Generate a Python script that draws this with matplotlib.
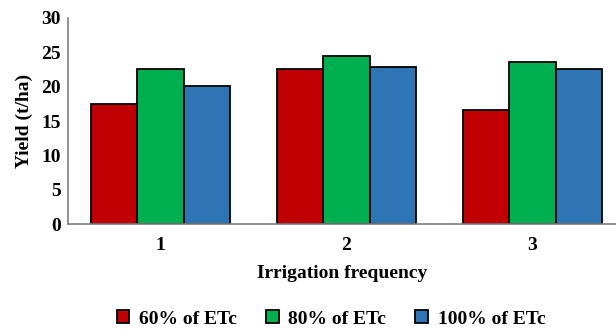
import numpy as np
import matplotlib
matplotlib.use("Agg")
import matplotlib.pyplot as plt

# Yield (t/ha) per irrigation frequency
frequencies = ["1", "2", "3"]
etc_60 = [17.5, 22.6, 16.6]
etc_80 = [22.6, 24.5, 23.6]
etc_100 = [20.1, 22.9, 22.6]
series_names = ["60% of ETc", "80% of ETc", "100% of ETc"]
colors = ["#c00000", "#00b050", "#2e75b6"]

plt.rcParams['font.family'] = ['Liberation Serif', 'DejaVu Serif']
plt.rcParams['font.weight'] = 'bold'

fig = plt.figure(figsize=(6.16, 3.33), dpi=100)
ax = fig.add_axes([0.110, 0.327, 0.890, 0.619])

x = np.arange(1, len(frequencies) + 1)
w = 0.25
for i, (vals, name, c) in enumerate(zip([etc_60, etc_80, etc_100], series_names, colors)):
    ax.bar(x + (i - 1) * w, vals, width=w, color=c, edgecolor="black",
           linewidth=1.3, label=name)

ax.set_xlim(0.5, 3.45)
ax.set_ylim(0, 30)
ax.set_yticks(range(0, 31, 5))
ax.set_xticks(x)
ax.set_xticklabels(frequencies)
ax.tick_params(length=0, labelsize=14)
ax.tick_params(axis='x', pad=9)
ax.tick_params(axis='y', pad=5)
for lab in ax.get_xticklabels() + ax.get_yticklabels():
    lab.set_fontweight('bold')

for s in ["top", "right"]:
    ax.spines[s].set_visible(False)
for s in ["left", "bottom"]:
    ax.spines[s].set_color("#7f7f7f")
    ax.spines[s].set_linewidth(1.2)

ax.set_xlabel("Irrigation frequency", fontsize=14, fontweight='bold', labelpad=8)
ax.set_ylabel("Yield (t/ha)", fontsize=14, fontweight='bold', labelpad=6)

leg = ax.legend(loc="center", bbox_to_anchor=(0.48, -0.46), ncol=3,
                frameon=False, handlelength=0.65, handleheight=0.65,
                handletextpad=0.5, columnspacing=1.5, borderpad=0,
                prop={'size': 14, 'weight': 'bold'})

fig.savefig("out.png", dpi=100)
